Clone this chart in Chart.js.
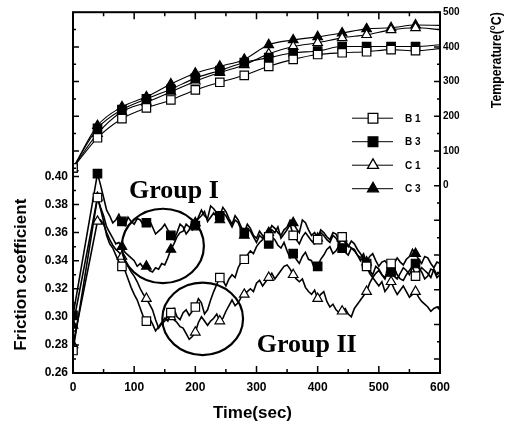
<!DOCTYPE html>
<html>
<head>
<meta charset="utf-8">
<script src="https://cdn.jsdelivr.net/npm/chart.js@4.4.0/dist/chart.umd.min.js"></script>
<style>
  body { margin: 0; background: #fff; }
  #wrap { width: 508px; height: 425px; }
</style>
</head>
<body>
<div id="wrap"><canvas id="myChart" width="508" height="425"></canvas></div>
<script>
// ---- data ----
var seriesNames = ['B1', 'B3', 'C1', 'C3'];

// temperature (right axis), sampled at the marker times
var tempTime = [0, 40, 80, 120, 160, 200, 240, 280, 320, 360, 400, 440, 480, 520, 560, 600];
var tempB1 = [51, 138, 193, 224, 247, 276, 298, 318, 344, 364, 378, 383, 386, 392, 389, 395];
var tempB3 = [51, 165, 219, 250, 278, 310, 332, 355, 369, 383, 388, 401, 401, 401, 401, 406];
var tempC1 = [51, 150, 213, 240, 270, 301, 326, 348, 380, 401, 412, 426, 435, 449, 455, 450];
var tempC3 = [51, 173, 227, 256, 293, 324, 344, 364, 406, 420, 429, 440, 452, 455, 463, 462];

// friction coefficient (left axis)
var fricTime = [0, 40, 45, 50, 55, 60, 65, 70, 75, 80, 85, 90, 95, 100, 105, 110, 115, 120, 125, 130, 135,
  140, 145, 150, 155, 160, 165, 170, 175, 180, 185, 190, 195, 200, 205, 210, 215, 220, 225, 230, 235,
  240, 245, 250, 255, 260, 265, 270, 275, 280, 285, 290, 295, 300, 305, 310, 315, 320, 325, 330, 335,
  340, 345, 350, 355, 360, 365, 370, 375, 380, 385, 390, 395, 400, 405, 410, 415, 420, 425, 430, 435,
  440, 445, 450, 455, 460, 465, 470, 475, 480, 485, 490, 495, 500, 505, 510, 515, 520, 525, 530, 535,
  540, 545, 550, 555, 560, 565, 570, 575, 580, 585, 590, 595, 600];
var fricB1 = [0.276, 0.385, 0.377, 0.368, 0.358, 0.352, 0.349, 0.344, 0.339, 0.336, 0.333, 0.327, 0.321,
  0.316, 0.312, 0.306, 0.300, 0.297, 0.299, 0.295, 0.290, 0.293, 0.296, 0.299, 0.297, 0.303, 0.306, 0.300,
  0.298, 0.303, 0.305, 0.301, 0.304, 0.307, 0.313, 0.310, 0.302, 0.305, 0.312, 0.318, 0.323, 0.328, 0.326,
  0.322, 0.327, 0.330, 0.328, 0.335, 0.339, 0.341, 0.344, 0.347, 0.345, 0.350, 0.353, 0.355, 0.359, 0.357,
  0.362, 0.360, 0.364, 0.356, 0.359, 0.362, 0.366, 0.358, 0.355, 0.352, 0.357, 0.360, 0.357, 0.354, 0.352,
  0.355, 0.360, 0.358, 0.355, 0.353, 0.358, 0.356, 0.352, 0.357, 0.354, 0.351, 0.349, 0.347, 0.344, 0.340,
  0.343, 0.336, 0.331, 0.328, 0.331, 0.333, 0.330, 0.327, 0.333, 0.338, 0.335, 0.330, 0.327, 0.326, 0.330,
  0.333, 0.336, 0.329, 0.332, 0.335, 0.333, 0.331, 0.328, 0.334, 0.330, 0.332];
var fricB3 = [0.301, 0.402, 0.394, 0.385, 0.376, 0.372, 0.367, 0.369, 0.373, 0.368, 0.365, 0.371, 0.368,
  0.366, 0.370, 0.369, 0.365, 0.367, 0.369, 0.364, 0.359, 0.361, 0.363, 0.366, 0.362, 0.358, 0.355, 0.360,
  0.366, 0.364, 0.359, 0.362, 0.368, 0.365, 0.371, 0.376, 0.372, 0.370, 0.379, 0.377, 0.374, 0.372, 0.378,
  0.375, 0.370, 0.366, 0.372, 0.369, 0.364, 0.360, 0.366, 0.363, 0.358, 0.356, 0.361, 0.358, 0.354, 0.352,
  0.357, 0.355, 0.351, 0.349, 0.353, 0.347, 0.342, 0.345, 0.341, 0.338, 0.343, 0.346, 0.341, 0.340, 0.334,
  0.336, 0.341, 0.344, 0.348, 0.350, 0.345, 0.347, 0.351, 0.349, 0.346, 0.344, 0.349, 0.348, 0.344, 0.342,
  0.345, 0.338, 0.333, 0.330, 0.336, 0.334, 0.330, 0.328, 0.334, 0.332, 0.329, 0.327, 0.331, 0.335, 0.333,
  0.330, 0.335, 0.338, 0.335, 0.332, 0.327, 0.329, 0.334, 0.333, 0.328, 0.330];
var fricC1 = [0.280, 0.368, 0.369, 0.366, 0.360, 0.355, 0.351, 0.348, 0.346, 0.343, 0.340, 0.336, 0.332,
  0.329, 0.325, 0.320, 0.316, 0.313, 0.309, 0.305, 0.298, 0.292, 0.295, 0.297, 0.302, 0.300, 0.298, 0.296,
  0.293, 0.292, 0.288, 0.284, 0.286, 0.289, 0.296, 0.300, 0.297, 0.294, 0.297, 0.299, 0.302, 0.297, 0.299,
  0.304, 0.308, 0.312, 0.308, 0.310, 0.314, 0.316, 0.318, 0.320, 0.318, 0.324, 0.326, 0.322, 0.325, 0.328,
  0.331, 0.327, 0.330, 0.333, 0.336, 0.337, 0.334, 0.330, 0.327, 0.325, 0.327, 0.321, 0.318, 0.316, 0.319,
  0.313, 0.316, 0.318, 0.311, 0.307, 0.309, 0.305, 0.303, 0.304, 0.306, 0.302, 0.300, 0.306, 0.309, 0.312,
  0.315, 0.318, 0.324, 0.328, 0.325, 0.322, 0.325, 0.318, 0.321, 0.325, 0.320, 0.316, 0.319, 0.322, 0.318,
  0.314, 0.316, 0.318, 0.314, 0.311, 0.309, 0.307, 0.304, 0.306, 0.307, 0.305];
var fricC3 = [0.294, 0.385, 0.378, 0.372, 0.364, 0.360, 0.356, 0.352, 0.353, 0.350, 0.346, 0.344, 0.342,
  0.340, 0.336, 0.338, 0.335, 0.336, 0.333, 0.332, 0.335, 0.334, 0.338, 0.337, 0.342, 0.348, 0.352, 0.357,
  0.360, 0.361, 0.366, 0.364, 0.362, 0.367, 0.370, 0.372, 0.375, 0.368, 0.371, 0.374, 0.371, 0.369, 0.374,
  0.372, 0.368, 0.364, 0.369, 0.367, 0.362, 0.358, 0.363, 0.361, 0.357, 0.353, 0.358, 0.356, 0.359, 0.360,
  0.365, 0.363, 0.360, 0.358, 0.362, 0.364, 0.369, 0.367, 0.363, 0.360, 0.369, 0.367, 0.362, 0.358, 0.360,
  0.356, 0.362, 0.360, 0.357, 0.355, 0.360, 0.359, 0.354, 0.356, 0.353, 0.350, 0.354, 0.352, 0.348, 0.345,
  0.341, 0.339, 0.343, 0.345, 0.340, 0.336, 0.339, 0.340, 0.337, 0.334, 0.338, 0.342, 0.339, 0.337, 0.341,
  0.343, 0.348, 0.345, 0.341, 0.338, 0.343, 0.342, 0.338, 0.335, 0.339, 0.338];

var timeTicks = [0, 100, 200, 300, 400, 500, 600];
var frictionTicks = [0.26, 0.28, 0.30, 0.32, 0.34, 0.36, 0.38, 0.40];
var tempTicks = [0, 100, 200, 300, 400, 500];

// ---- styling ----
var FONT = '"Liberation Sans", Arial, sans-serif';
var markers = {
  B1: { style: 'rect', fill: '#fff', r: 6.5 },
  B3: { style: 'rect', fill: '#000', r: 6.5 },
  C1: { style: 'triangle', fill: '#fff', r: 6 },
  C3: { style: 'triangle', fill: '#000', r: 6 }
};
var groups = [
  { label: 'Group I', t: 147, f: 0.3505, rt: 67, rf: 0.0265, lt: 165, lf: 0.385 },
  { label: 'Group II', t: 212, f: 0.2986, rt: 66, rf: 0.0258, lt: 382, lf: 0.2747 }
];

function points(xs, ys) {
  return xs.map(function (t, i) { return { x: t, y: ys[i] }; });
}

function makeSet(name, xs, ys, axis, width) {
  var m = markers[name];
  return {
    label: name,
    data: points(xs, ys),
    yAxisID: axis,
    borderColor: '#000',
    borderWidth: width,
    backgroundColor: m.fill,
    pointStyle: m.style,
    pointBackgroundColor: m.fill,
    pointBorderColor: '#000',
    pointBorderWidth: 1.2,
    pointRadius: function (c) {
      var t = c.raw ? c.raw.x : -1;
      return (t % 40 === 0 && t < 600) ? m.r * 0.92 : 0;
    },
    tension: axis === 'yT' ? 0.4 : 0,
    cubicInterpolationMode: axis === 'yT' ? 'monotone' : 'default',
    fill: false
  };
}

var tempValues = [tempB1, tempB3, tempC1, tempC3];
var fricValues = [fricB1, fricB3, fricC1, fricC3];
var datasets = [];
seriesNames.forEach(function (n, i) { datasets.push(makeSet(n, tempTime, tempValues[i], 'yT', 1.1)); });
seriesNames.forEach(function (n, i) { datasets.push(makeSet(n, fricTime, fricValues[i], 'yF', 1.6)); });

var framePlugin = {
  id: 'frame',
  afterDatasetsDraw: function (chart) {
    var ctx = chart.ctx, x = chart.scales.x, yF = chart.scales.yF;
    ctx.save();
    ctx.strokeStyle = '#000';
    ctx.lineWidth = 2.2;
    groups.forEach(function (g) {
      var cx = x.getPixelForValue(g.t), cy = yF.getPixelForValue(g.f);
      var rx = x.getPixelForValue(g.t + g.rt) - cx;
      var ry = cy - yF.getPixelForValue(g.f + g.rf);
      ctx.beginPath();
      ctx.ellipse(cx, cy, rx, ry, 0, 0, Math.PI * 2);
      ctx.stroke();
    });
    ctx.fillStyle = '#000';
    ctx.font = 'bold 26px "Liberation Serif", "Times New Roman", serif';
    ctx.textAlign = 'center';
    ctx.textBaseline = 'alphabetic';
    groups.forEach(function (g) {
      ctx.fillText(g.label, x.getPixelForValue(g.lt), yF.getPixelForValue(g.lf));
    });
    ctx.restore();
  },
  afterDraw: function (chart) {
    var ctx = chart.ctx, a = chart.chartArea;
    var x = chart.scales.x, yF = chart.scales.yF, yT = chart.scales.yT;
    ctx.save();
    ctx.strokeStyle = '#000';
    ctx.lineWidth = 2;
    ctx.strokeRect(a.left, a.top, a.right - a.left, a.bottom - a.top);

    // inward tick marks
    ctx.lineWidth = 1.5;
    ctx.beginPath();
    var t, len, p, k;
    for (t = 0; t <= 600; t += 50) {
      p = x.getPixelForValue(t);
      len = t % 100 === 0 ? 7 : 4;
      ctx.moveTo(p, a.bottom); ctx.lineTo(p, a.bottom - len);
      ctx.moveTo(p, a.top); ctx.lineTo(p, a.top + len);
    }
    for (k = 26; k <= 40; k++) {
      p = yF.getPixelForValue(k / 100);
      len = k % 2 === 0 ? 6 : 3;
      ctx.moveTo(a.left, p); ctx.lineTo(a.left + len, p);
    }
    for (t = 50; t <= 450; t += 50) {
      p = yT.getPixelForValue(t);
      len = t % 100 === 0 ? 6 : 3;
      ctx.moveTo(a.left, p); ctx.lineTo(a.left + len, p);
    }
    for (t = -500; t <= 500; t += 50) {
      p = yT.getPixelForValue(t);
      len = t % 100 === 0 ? 6 : 3;
      ctx.moveTo(a.right, p); ctx.lineTo(a.right - len, p);
    }
    ctx.stroke();

    // axis titles
    ctx.fillStyle = '#000';
    ctx.textAlign = 'center';
    ctx.textBaseline = 'middle';
    ctx.font = 'bold 17px ' + FONT;
    ctx.fillText('Time(sec)', (a.left + a.right) / 2 - 4, a.bottom + 40);
    ctx.save();
    ctx.translate(21, (yF.getPixelForValue(0.26) + yF.getPixelForValue(0.40)) / 2);
    ctx.rotate(-Math.PI / 2);
    ctx.fillText('Friction coefficient', 0, 0, 156);
    ctx.restore();
    ctx.save();
    ctx.translate(497, a.top + 48);
    ctx.rotate(-Math.PI / 2);
    ctx.font = 'bold 15px ' + FONT;
    ctx.fillText('Temperature(\u00B0C)', 0, 0, 96);
    ctx.restore();

    // legend
    var lx0 = a.right - 88, lx1 = a.right - 47, mx = a.right - 67, tx = a.right - 35;
    ctx.font = 'bold 10px ' + FONT;
    ctx.textAlign = 'left';
    seriesNames.forEach(function (n, i) {
      var m = markers[n];
      var ly = a.top + 106 + i * 23.5;
      ctx.lineWidth = 1;
      ctx.beginPath();
      ctx.moveTo(lx0, ly); ctx.lineTo(lx1, ly);
      ctx.stroke();
      ctx.fillStyle = m.fill;
      ctx.lineWidth = 1.3;
      Chart.helpers.drawPoint(ctx, { pointStyle: m.style, radius: m.r * 1.05, rotation: 0, borderWidth: 1.3 }, mx, ly);
      ctx.fillStyle = '#000';
      ctx.fillText(n.split('').join(' '), tx, ly + 1);
    });
    ctx.restore();
  }
};

var ctx = document.getElementById('myChart').getContext('2d');
var myChart = new Chart(ctx, {
  type: 'line',
  data: { datasets: datasets },
  options: {
    responsive: false,
    animation: false,
    layout: { padding: { top: 7 } },
    plugins: { legend: { display: false }, tooltip: { enabled: false } },
    scales: {
      x: {
        type: 'linear', position: 'bottom', min: 0, max: 600,
        afterBuildTicks: function (s) { s.ticks = timeTicks.map(function (v) { return { value: v }; }); },
        afterFit: function (s) { s.height = 52; },
        grid: { display: false, drawTicks: false },
        border: { display: false },
        ticks: { color: '#000', padding: 7, maxRotation: 0, font: { family: FONT, weight: 'bold', size: 12 } }
      },
      yF: {
        type: 'linear', position: 'left', min: 0.26, max: 0.517,
        afterBuildTicks: function (s) { s.ticks = frictionTicks.map(function (v) { return { value: v }; }); },
        afterFit: function (s) { s.width = 73; },
        grid: { display: false, drawTicks: false },
        border: { display: false },
        ticks: {
          color: '#000', padding: 5, font: { family: FONT, weight: 'bold', size: 12 },
          callback: function (v) { return v.toFixed(2); }
        }
      },
      yT: {
        type: 'linear', position: 'right', min: -540, max: 500,
        afterBuildTicks: function (s) { s.ticks = tempTicks.map(function (v) { return { value: v }; }); },
        afterFit: function (s) { s.width = 68; },
        grid: { display: false, drawTicks: false },
        border: { display: false },
        ticks: { color: '#000', padding: 3, font: { family: FONT, weight: 'bold', size: 10 } }
      }
    }
  },
  plugins: [framePlugin]
});
</script>
</body>
</html>
